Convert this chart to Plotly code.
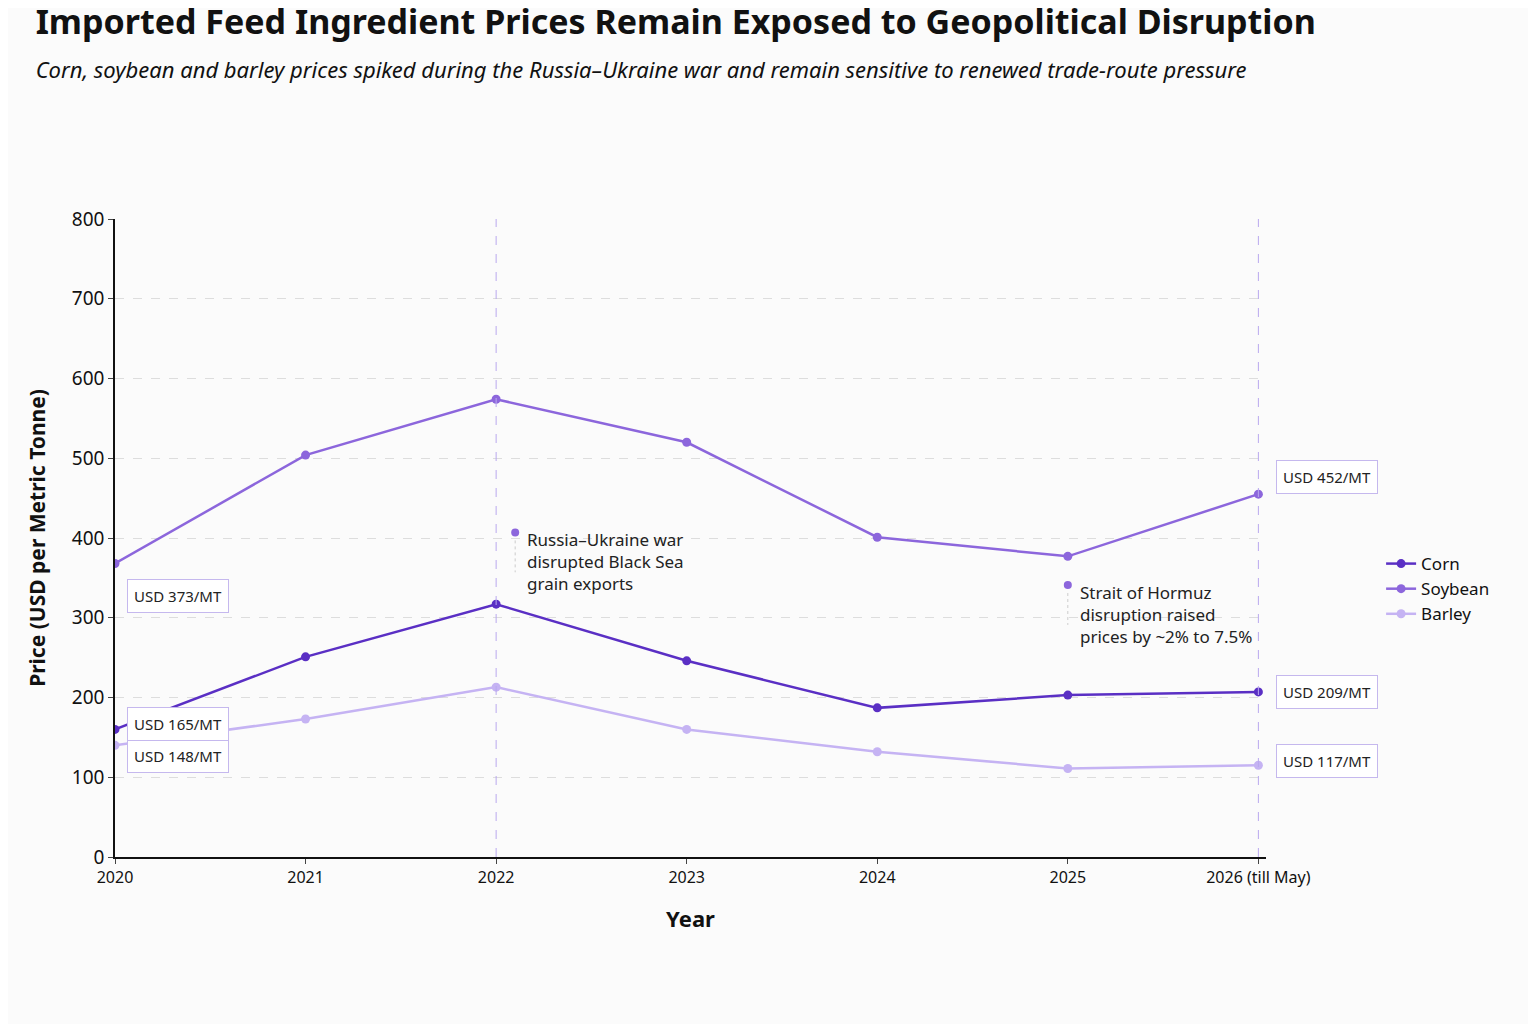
import plotly.graph_objects as go

years = ["2020", "2021", "2022", "2023", "2024", "2025", "2026 (till May)"]
xpos = [0, 1, 2, 3, 4, 5, 6]
corn = [160, 251, 317, 246, 187, 203, 207]
soybean = [368, 504, 574, 520, 401, 377, 455]
barley = [140, 173, 213, 160, 132, 111, 115]
series = [("Corn", corn, "#5a2fc4"), ("Soybean", soybean, "#8c66dc"), ("Barley", barley, "#c5b3f3")]

F = "Noto Sans"
fig = go.Figure()
for name, vals, col in series:
    fig.add_trace(go.Scatter(x=xpos, y=vals, name=name, mode="lines+markers",
                             line=dict(color=col, width=2.5), marker=dict(size=9, color=col)))

for x in [2, 6]:
    fig.add_shape(type="line", x0=x, x1=x, y0=0, y1=800, xref="x", yref="y",
                  line=dict(color="#b9a8ee", width=1, dash="dash"))

# event markers
events = [(2.1, 407, "Russia–Ukraine war<br>disrupted Black Sea<br>grain exports"),
          (5.0, 341, "Strait of Hormuz<br>disruption raised<br>prices by ~2% to 7.5%")]
for ex, ey, txt in events:
    fig.add_trace(go.Scatter(x=[ex], y=[ey], mode="markers", showlegend=False,
                             marker=dict(size=8, color="#8c66dc"), hoverinfo="skip"))
    fig.add_shape(type="line", x0=ex, x1=ex, y0=ey - 10, y1=ey - 50,
                  line=dict(color="#cccccc", width=1, dash="dot"))
    fig.add_annotation(x=ex, y=ey + 8, text=txt, showarrow=False, xanchor="left", yanchor="top",
                       xshift=10, align="left", font=dict(family=F, size=17, color="#222"))

labels = [(0, 148, "USD 148/MT"), (0, 188, "USD 165/MT"), (0, 348, "USD 373/MT"),
          (6, 455, "USD 452/MT"), (6, 207, "USD 209/MT"), (6, 120, "USD 117/MT")]
for lx, ly, t in labels:
    if lx == 0:
        fig.add_annotation(x=lx, y=ly, text=t, showarrow=False, xanchor="left", yanchor="top",
                           xshift=12, bgcolor="white", bordercolor="#c5b8ee", borderwidth=1,
                           borderpad=6, font=dict(family=F, size=15, color="#222"))
    else:
        fig.add_annotation(x=lx, y=ly, text=t, showarrow=False, xanchor="left", yanchor="bottom" if ly > 300 else "middle",
                           xshift=18, bgcolor="white", bordercolor="#c5b8ee", borderwidth=1,
                           borderpad=6, font=dict(family=F, size=15, color="#222"))

fig.update_layout(
    width=1536, height=1024, paper_bgcolor="#fbfbfb", plot_bgcolor="#fbfbfb",
    margin=dict(l=107, r=278, t=211, b=175),
    font=dict(family=F, color="#111"),
    title=dict(text="<b>Imported Feed Ingredient Prices Remain Exposed to Geopolitical Disruption</b><br>"
                    "<span style='font-size:22px'><i>Corn, soybean and barley prices spiked during the Russia–Ukraine war and remain sensitive to renewed trade-route pressure</i></span>",
               x=0.018, xanchor="left", y=0.975, yanchor="top", font=dict(size=34, color="#111")),
    legend=dict(x=1.1, y=0.42, xanchor="left", yanchor="middle", font=dict(size=17),
                bgcolor="rgba(0,0,0,0)"),
    xaxis=dict(tickvals=xpos, ticktext=years, range=[0, 6.04], showgrid=False,
               showline=True, linecolor="#111", linewidth=1.5, ticks="outside",
               tickfont=dict(size=16, color="#111"), zeroline=False,
               title=dict(text="<b>Year</b>", font=dict(size=22), standoff=25)),
    yaxis=dict(range=[0, 800], dtick=100, showline=True, linecolor="#111", linewidth=1.5,
               gridcolor="#dddddd", griddash="dash", ticks="outside", zeroline=False,
               tickfont=dict(size=19, color="#111"),
               title=dict(text="<b>Price (USD per Metric Tonne)</b>", font=dict(size=21), standoff=20)),
)
fig.add_annotation(text="Source: IMF Commodity Prices, Ken Research Analysis", xref="paper", yref="paper",
                   x=-0.08, y=-0.32, xanchor="left", yanchor="top", showarrow=False,
                   font=dict(family=F, size=16, color="#222"))
fig.write_html("out.html")
